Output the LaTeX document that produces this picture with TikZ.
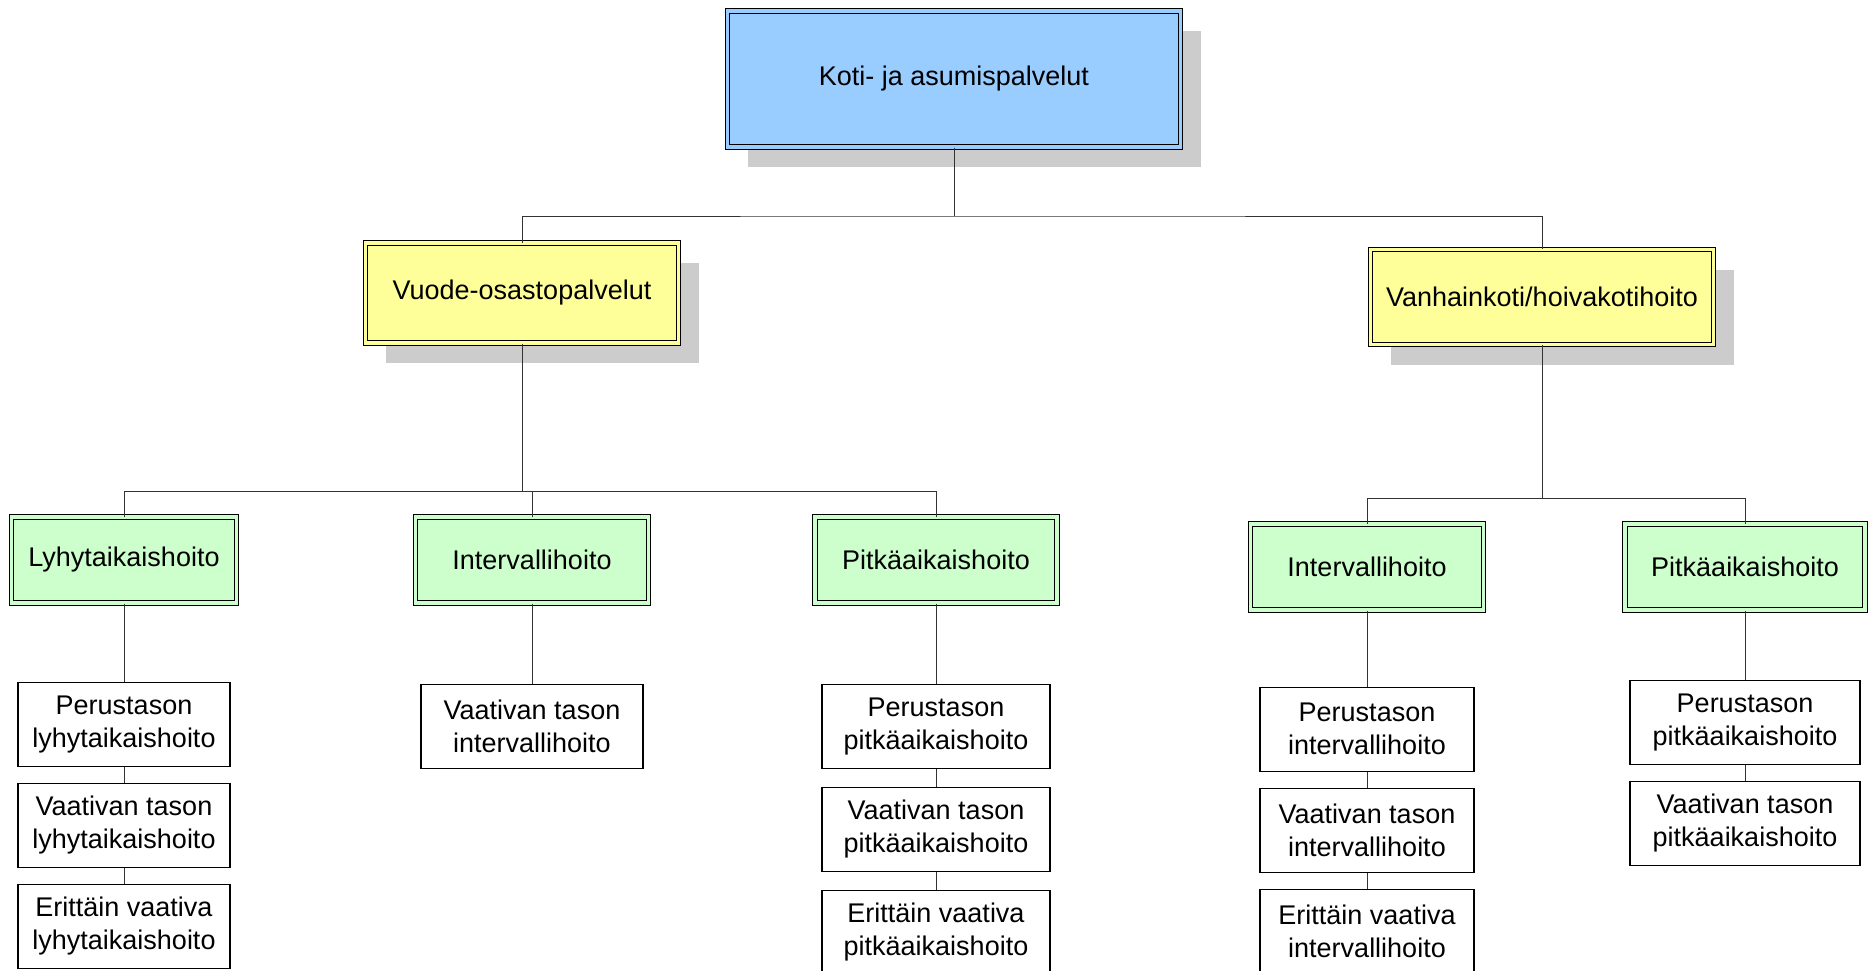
\documentclass[tikz,border=0pt]{standalone}
\usepackage{fontspec}
\setmainfont{Liberation Sans}
\usepackage{tikz}
\usetikzlibrary{positioning,shadows}
\definecolor{topblue}{HTML}{99CCFF}
\definecolor{lvlyellow}{HTML}{FFFF99}
\definecolor{lvlgreen}{HTML}{CCFFCC}
\definecolor{shadowgray}{HTML}{CCCCCC}
\definecolor{linegray}{HTML}{333333}

\begin{document}
\begin{tikzpicture}[x=0.5pt,y=-0.5pt,node distance=8pt,
    font=\fontsize{13.5}{16.5}\selectfont,
    dblbox/.style={draw=black,line width=0.5pt,double distance=1.6pt,inner sep=2pt,align=center},
    shadowed/.style={drop shadow={shadow xshift=10pt,shadow yshift=-10pt,fill=shadowgray,opacity=1}},
    topbox/.style={dblbox,shadowed,fill=topblue,double=topblue},
    midbox/.style={dblbox,shadowed,fill=lvlyellow,double=lvlyellow},
    carebox/.style={dblbox,fill=lvlgreen,double=lvlgreen,minimum height=43pt},
    levelbox/.style={draw=black,line width=0.6pt,fill=white,inner sep=2pt,align=center,minimum height=42pt},
    conn/.style={draw=linegray,line width=0.5pt}]
  \useasboundingbox[fill=white] (0,0) rectangle (1874,970);

  % top and second level
  \node[topbox,minimum width=226.5pt,minimum height=68pt] (koti) at (954,79) {Koti- ja asumispalvelut};
  \node[midbox,minimum width=156.5pt,minimum height=50pt] (vuode) at (522,293) {Vuode-osastopalvelut};
  \node[midbox,minimum width=171.5pt,minimum height=47.5pt] (vanha) at (1542,297) {Vanhainkoti/hoivakotihoito};

  % care types
  \node[carebox,minimum width=112.5pt] (lyhyt) at (124,560) {Lyhytaikaishoito};
  \node[carebox,minimum width=116.5pt] (intL) at (532,560) {Intervallihoito};
  \node[carebox,minimum width=121pt] (pitL) at (936,560) {Pitkäaikaishoito};
  \node[carebox,minimum width=116.5pt] (intR) at (1367,567) {Intervallihoito};
  \node[carebox,minimum width=120pt] (pitR) at (1745,567) {Pitkäaikaishoito};

  % levels
  \node[levelbox,minimum width=106pt,below=39pt of lyhyt] (lyP) {Perustason\\lyhytaikaishoito};
  \node[levelbox,minimum width=106pt,below=of lyP] (lyV) {Vaativan tason\\lyhytaikaishoito};
  \node[levelbox,minimum width=106pt,below=of lyV] (lyE) {Erittäin vaativa\\lyhytaikaishoito};
  \node[levelbox,minimum width=111pt,below=40pt of intL] (intLV) {Vaativan tason\\intervallihoito};
  \node[levelbox,minimum width=114pt,below=40pt of pitL] (pitLP) {Perustason\\pitkäaikaishoito};
  \node[levelbox,minimum width=114pt,below=9pt of pitLP] (pitLV) {Vaativan tason\\pitkäaikaishoito};
  \node[levelbox,minimum width=114pt,below=9pt of pitLV] (pitLE) {Erittäin vaativa\\pitkäaikaishoito};
  \node[levelbox,minimum width=107pt,below=38pt of intR] (intRP) {Perustason\\intervallihoito};
  \node[levelbox,minimum width=107pt,below=of intRP] (intRV) {Vaativan tason\\intervallihoito};
  \node[levelbox,minimum width=107pt,below=of intRV] (intRE) {Erittäin vaativa\\intervallihoito};
  \node[levelbox,minimum width=115pt,below=34.5pt of pitR] (pitRP) {Perustason\\pitkäaikaishoito};
  \node[levelbox,minimum width=115pt,below=of pitRP] (pitRV) {Vaativan tason\\pitkäaikaishoito};

  % connectors
  \coordinate (bar0) at (954,216);
  \coordinate (barL) at (522,491);
  \coordinate (barR) at (1542,498);
  \draw[conn] (koti) -- (bar0);
  \draw[conn] (vuode.north) |- (bar0) -| (vanha.north);
  \draw[conn] (vuode) -- (barL);
  \draw[conn] (lyhyt.north) |- (barL) -| (pitL.north);
  \draw[conn] (intL.north) -- (intL.north |- barL);
  \draw[conn] (vanha) -- (barR);
  \draw[conn] (intR.north) |- (barR) -| (pitR.north);

  \draw[conn] (lyhyt) -- (lyP);
  \draw[conn] (lyP) -- (lyV);
  \draw[conn] (lyV) -- (lyE);
  \draw[conn] (intL) -- (intLV);
  \draw[conn] (pitL) -- (pitLP);
  \draw[conn] (pitLP) -- (pitLV);
  \draw[conn] (pitLV) -- (pitLE);
  \draw[conn] (intR) -- (intRP);
  \draw[conn] (intRP) -- (intRV);
  \draw[conn] (intRV) -- (intRE);
  \draw[conn] (pitR) -- (pitRP);
  \draw[conn] (pitRP) -- (pitRV);
\end{tikzpicture}
\end{document}
